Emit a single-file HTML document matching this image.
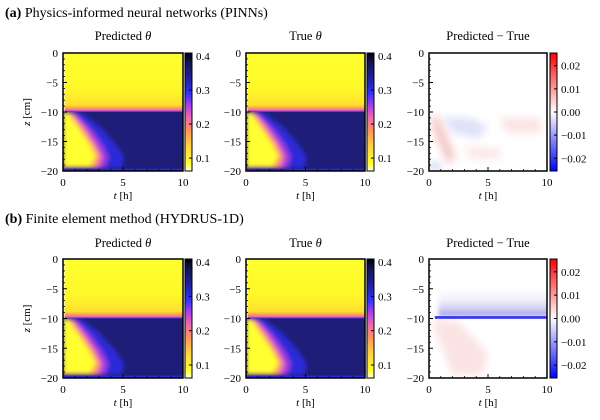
<!DOCTYPE html>
<html><head><meta charset="utf-8"><style>
html,body{margin:0;padding:0;background:#fff;}
svg, svg text{font-family:"Liberation Serif","DejaVu Serif",serif;}
</style></head><body>
<svg id="fig" width="600" height="415" viewBox="0 0 600 415" xmlns="http://www.w3.org/2000/svg" style="font-family:'Liberation Serif','DejaVu Serif',serif">
<defs>
<filter id="blur2" x="-20%" y="-20%" width="140%" height="140%"><feGaussianBlur stdDeviation="2"/></filter>
<filter id="blur3" x="-30%" y="-30%" width="160%" height="160%"><feGaussianBlur stdDeviation="4"/></filter>
<linearGradient id="cbTheta" x1="0" y1="1" x2="0" y2="0">
<stop offset="0" stop-color="#fffff0"/><stop offset="0.06" stop-color="#ffff30"/><stop offset="0.22" stop-color="#ffd040"/>
<stop offset="0.35" stop-color="#ff9060"/><stop offset="0.45" stop-color="#f068b0"/><stop offset="0.55" stop-color="#b040e8"/>
<stop offset="0.66" stop-color="#3030ff"/><stop offset="0.78" stop-color="#2020a0"/><stop offset="0.92" stop-color="#141450"/><stop offset="1" stop-color="#000010"/>
</linearGradient>
<linearGradient id="cbDiff" x1="0" y1="1" x2="0" y2="0">
<stop offset="0" stop-color="#0000ff"/><stop offset="0.5" stop-color="#ffffff"/><stop offset="1" stop-color="#ff0000"/>
</linearGradient>
</defs>
<text x="5" y="17" font-size="14"><tspan font-weight="bold">(a)</tspan> Physics-informed neural networks (PINNs)</text>
<text x="5" y="223" font-size="14"><tspan font-weight="bold">(b)</tspan> Finite element method (HYDRUS-1D)</text>
</svg>
<script>
const NS="http://www.w3.org/2000/svg";
const svg=document.getElementById('fig');
// axis data
const xTicks=[0,5,10];
const yTicks=[0,-5,-10,-15,-20];
const thetaTicks=[0.1,0.2,0.3,0.4];
const thetaTickLabels=["0.1","0.2","0.3","0.4"];
const diffTicks=[0.02,0.01,0.00,-0.01,-0.02];
const diffTickLabels=["0.02","0.01","0.00","\u22120.01","\u22120.02"];
const thetaRange=[0.062,0.409];
const diffRange=[-0.0255,0.0255];
// wetting front contour levels (t [h], z [cm])
const levelValues=[0.30,0.24,0.18,0.12,0.075];
const levelColors=["#2a2ad8","#9a3ae0","#f070a8","#ffb048","#ffff30"];
const contourT=[[0,1.6,3.1,4.4,5.1,4.9,0],[0,1.0,2.2,3.3,3.8,3.5,0],[0,0.8,1.8,2.8,3.3,3.0,0],[0,0.6,1.5,2.5,3.0,2.6,0],[0,0.4,1.2,2.2,2.7,2.2,0]];
const contourZ=[[-10,-10.2,-12.5,-15.5,-17.6,-19.5,-19.5],[-10,-10.1,-12.5,-15.5,-17.6,-19.5,-19.5],[-10,-10.1,-12.5,-15.5,-17.6,-19.5,-19.5],[-10,-10.1,-12.5,-15.5,-17.5,-19.4,-19.4],[-10,-10.2,-12.5,-15.5,-17.5,-19.2,-19.2]];

const rows=[{top:53,bot:171,tl:40},{top:259,bot:378,tl:247}];
const cols=[{l:63,r:183,cb:185},{l:246,r:365,cb:367},{l:429,r:547,cb:550}];

function el(tag,attrs,parent){const e=document.createElementNS(NS,tag);for(const k in attrs)e.setAttribute(k,attrs[k]);(parent||svg).appendChild(e);return e;}
function sx(c,t){return c.l+(t/10)*(c.r-c.l);}
function sy(r,z){return r.top+(-z/20)*(r.bot-r.top);}
function cy(r,v,range){return r.bot-(v-range[0])/(range[1]-range[0])*(r.bot-r.top);}
function pathFrom(c,r,ts,zs){let d='';for(let i=0;i<ts.length;i++){d+=(i?'L':'M')+sx(c,ts[i]).toFixed(1)+','+sy(r,zs[i]).toFixed(1);}return d+'Z';}

let clipId=0;
function thetaPanel(c,r,g){
  el('rect',{x:c.l,y:r.top,width:c.r-c.l,height:r.bot-r.top,fill:'#1e1e78'},g);
  const bl=el('g',{filter:'url(#blur2)'},g);
  for(let i=0;i<levelValues.length;i++){
    const p=el('path',{d:pathFrom(c,r,contourT[i],contourZ[i]),fill:levelColors[i]},bl);
    
    
  }
  const gid='tg'+(clipId++);
  const lg=el('linearGradient',{id:gid,x1:0,y1:0,x2:0,y2:1},svg.querySelector('defs'));
  [[0,'#ffff30'],[0.6,'#fff828'],[0.88,'#ffe030'],[0.93,'#ffa050'],[0.965,'#f070b0'],[0.985,'#a040e0'],[1,'#3030d0']].forEach(s=>el('stop',{offset:s[0],'stop-color':s[1]},lg));
  el('rect',{x:c.l,y:r.top,width:c.r-c.l,height:sy(r,-10)-r.top,fill:'url(#'+gid+')'},g);
  el('rect',{x:c.l,y:sy(r,-19.6),width:c.r-c.l,height:sy(r,-20)-sy(r,-19.6),fill:'#2a2ad0'},g);
  el('rect',{x:c.l,y:r.top,width:2,height:sy(r,-10)-r.top,fill:'#ffffb0',opacity:0.6},g);
}
function diffPanel(c,r,g,which){
  el('rect',{x:c.l,y:r.top,width:c.r-c.l,height:r.bot-r.top,fill:'#fff'},g);
  const bl=el('g',{filter:'url(#blur3)'},g);
  if(which===0){
    el('path',{d:pathFrom(c,r,[0.2,0.9,2.3,1.6,0.3],[-10.5,-11,-17.5,-19,-13]),fill:'#f6caca'},bl);
    el('path',{d:pathFrom(c,r,[1.2,3.5,5,4.2,2],[-10.8,-11,-12.5,-14.5,-13.5]),fill:'#e0e0f8'},bl);
    el('path',{d:pathFrom(c,r,[6,9.5,9.5,6.5],[-11,-11,-13.5,-13.5]),fill:'#fbe4e4'},bl);
    el('path',{d:pathFrom(c,r,[3,6,6,3.5],[-16,-16,-18,-18]),fill:'#fce8e8'},bl);
    el('path',{d:pathFrom(c,r,[0,1,1,0],[-18.5,-18.5,-20,-20]),fill:'#dcdcf6'},bl);
  } else {
    el('path',{d:pathFrom(c,r,[0.4,2.5,5,4.5,2,0.3],[-10.2,-10.5,-16,-19.5,-19.5,-11]),fill:'#fbe3e3'},bl);
    const gid='dg'+(clipId++);
    const lg=el('linearGradient',{id:gid,x1:0,y1:0,x2:0,y2:1},svg.querySelector('defs'));
    [[0,'#ffffff'],[0.45,'#eeeefa'],[0.8,'#c8c8f2'],[1,'#8a8aec']].forEach(s=>el('stop',{offset:s[0],'stop-color':s[1]},lg));
    const bl2=el('g',{filter:'url(#blur2)'},g);
    el('rect',{x:sx(c,0.8),y:sy(r,-5),width:sx(c,11)-sx(c,0.8),height:sy(r,-9.6)-sy(r,-5),fill:'url(#'+gid+')'},bl2);
    el('rect',{x:sx(c,0.5),y:sy(r,-9.6),width:sx(c,10)-sx(c,0.5),height:sy(r,-10.05)-sy(r,-9.6),fill:'#3535ee'},g);
  }
}
function axes(c,r,g,isLeftLabel){
  const w=c.r-c.l,h=r.bot-r.top;
  for(const v of yTicks){const y=sy(r,v);
    el('line',{x1:c.l,x2:c.l+4,y1:y,y2:y,stroke:'#000','stroke-width':1},g);
    const t=el('text',{x:c.l-5,y:y+4,'font-size':11,'text-anchor':'end'},g);t.textContent=v===0?'0':'\u2212'+(-v);
  }
  for(let v=-1;v>-20;v--){if(v%5===0)continue;const y=sy(r,v);el('line',{x1:c.l,x2:c.l+2,y1:y,y2:y,stroke:'#000','stroke-width':0.8},g);}
  for(const v of xTicks){const x=sx(c,v);
    el('line',{x1:x,x2:x,y1:r.bot,y2:r.bot-4,stroke:'#000','stroke-width':1},g);
    const t=el('text',{x:x,y:r.bot+15,'font-size':11,'text-anchor':'middle'},g);t.textContent=String(v);
  }
  for(let v=1;v<10;v++){if(v===5)continue;const x=sx(c,v);el('line',{x1:x,x2:x,y1:r.bot,y2:r.bot-2,stroke:'#000','stroke-width':0.8},g);}
  el('rect',{x:c.l,y:r.top,width:w,height:h,fill:'none',stroke:'#000','stroke-width':1.5},g);
  const xl=el('text',{x:(c.l+c.r)/2,y:r.bot+28,'font-size':11,'text-anchor':'middle'},g);
  xl.innerHTML='<tspan font-style="italic">t</tspan> [h]';
  if(isLeftLabel){
    const yl=el('text',{x:0,y:0,'font-size':11,'text-anchor':'middle',transform:'translate(30,'+((r.top+r.bot)/2)+') rotate(-90)'},g);
    yl.innerHTML='<tspan font-style="italic">z</tspan> [cm]';
  }
}
function colorbar(c,r,g,isDiff){
  const x=c.cb,w=7;
  el('rect',{x:x,y:r.top,width:w,height:r.bot-r.top,fill:isDiff?'url(#cbDiff)':'url(#cbTheta)',stroke:'#000','stroke-width':1},g);
  const ticks=isDiff?diffTicks:thetaTicks, labels=isDiff?diffTickLabels:thetaTickLabels, range=isDiff?diffRange:thetaRange;
  ticks.forEach((v,i)=>{const y=cy(r,v,range);
    el('line',{x1:x+w,x2:x+w-3,y1:y,y2:y,stroke:'#000','stroke-width':1},g);
    const t=el('text',{x:x+w+4,y:y+4,'font-size':11},g);t.textContent=labels[i];
  });
}
rows.forEach((r,ri)=>{
  cols.forEach((c,ci)=>{
    const g=el('g',{});
    
    
    const cp='cp'+(clipId++);
    const clip=el('clipPath',{id:cp},svg.querySelector('defs'));
    el('rect',{x:c.l,y:r.top,width:c.r-c.l,height:r.bot-r.top},clip);
    const hm=el('g',{'clip-path':'url(#'+cp+')'},g);
    
    
    if(ci<2)thetaPanel(c,r,hm);else diffPanel(c,r,hm,ri);
    axes(c,r,g,ci===0);
    const cb=el('g',{},g);
    
    
    colorbar(c,r,cb,ci===2);
    const tt=el('text',{x:(c.l+c.r)/2,y:r.tl,'font-size':12.5,'text-anchor':'middle'},g);
    
    
    tt.innerHTML=ci<2?(ci?'True ':'Predicted ')+'<tspan font-style="italic">\u03b8</tspan>':'Predicted \u2212 True';
  });
});
</script>
</body></html>
